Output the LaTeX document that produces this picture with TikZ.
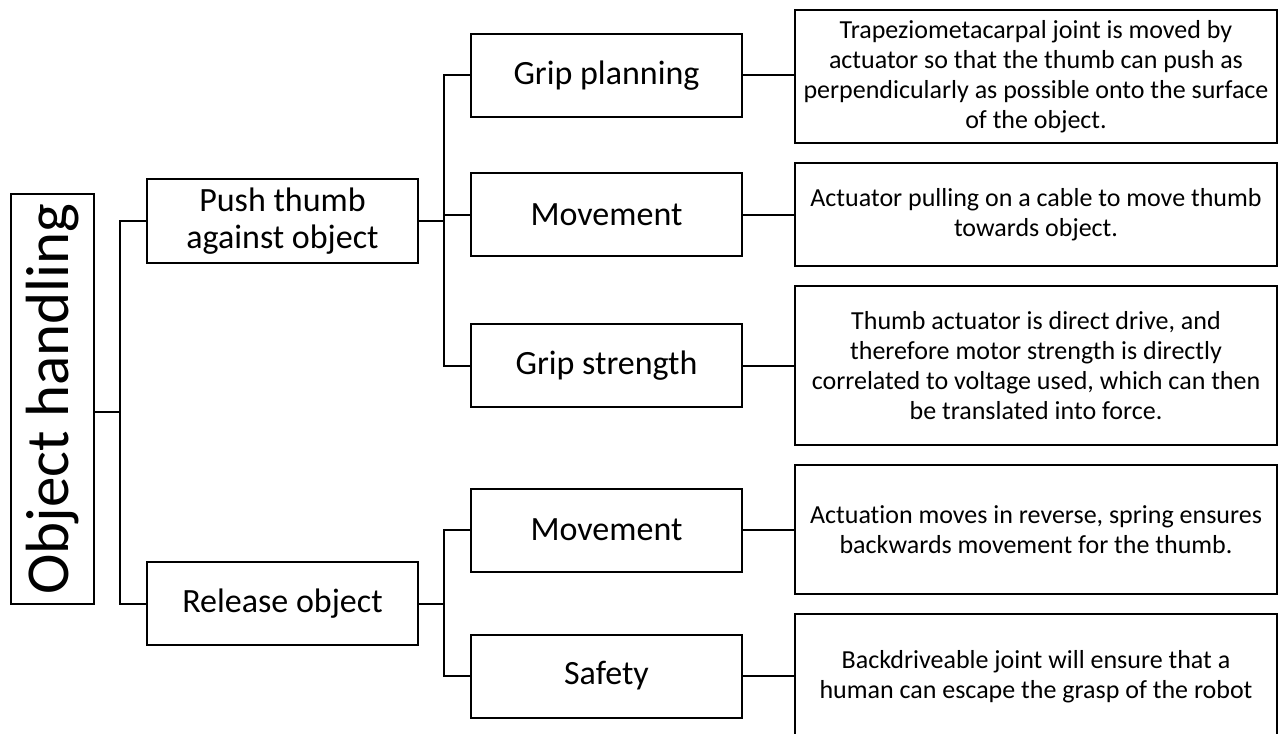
\documentclass[tikz,border=0pt]{standalone}
\usepackage{fontspec}
\setmainfont{Carlito}[Ligatures=NoCommon]
\begin{document}
\begin{tikzpicture}[x=0.5pt,y=-0.5pt,inner sep=0pt,outer sep=0pt,line width=1pt,
funcblock/.style={draw,rectangle,align=center,minimum width=135.5pt,minimum height=41.5pt,line width=1pt,font=\fontsize{17}{18.5}\selectfont},
descblock/.style={draw,rectangle,align=center,minimum width=241pt,line width=1pt,font=\fontsize{13}{15}\selectfont}]
\useasboundingbox (0,0) rectangle (1288,733);
\clip (0,0) rectangle (1288,733);

% root
\draw (52.5,399) node[draw,rectangle,rotate=90,minimum width=205pt,minimum height=41.5pt,font=\fontsize{30.5}{36}\selectfont] (root) {Object handling};

% first level
\draw (282.5,221) node[funcblock,minimum height=42pt] (push) {Push thumb\\against object};
\draw (282.5,603.5) node[funcblock] (rel) {Release object};

% second level
\draw (606.5,75.5) node[funcblock] (gplan) {Grip planning};
\draw (606.5,214.5) node[funcblock] (move) {Movement};
\draw (606.5,365.5) node[funcblock] (gstr) {Grip strength};
\draw (606.5,530) node[funcblock] (moveb) {Movement};
\draw (606.5,676) node[funcblock] (safe) {Safety};

% descriptions
\draw (1036,76.5) node[descblock,minimum height=66.2pt] (dplan) {Trapeziometacarpal joint is moved by\\actuator so that the thumb can push as\\perpendicularly as possible onto the surface\\of the object.};
\draw (1036,214.4) node[descblock,minimum height=51.7pt] (dmove) {Actuator pulling on a cable to move thumb\\towards object.};
\draw (1036,365.5) node[descblock,minimum height=79.5pt] (dstr) {Thumb actuator is direct drive, and\\therefore motor strength is directly\\correlated to voltage used, which can then\\be translated into force.};
\draw (1036,529.7) node[descblock,minimum height=64.6pt] (dmoveb) {Actuation moves in reverse, spring ensures\\backwards movement for the thumb.};
\draw (1036,677) node[descblock,minimum height=63pt] (dsafe) {Backdriveable joint will ensure that a\\human can escape the grasp of the robot};

% connectors
\coordinate (t1) at (120,412);
\coordinate (t2) at (444,221);
\coordinate (t3) at (444,603.5);
\draw (root.south |- t1) -- (t1);
\draw (push.west) -| (t1) |- (rel.west);
\draw (push.east) -- (t2);
\draw (gplan.west) -| (t2) |- (gstr.west);
\draw (move.west) -- (move.west -| t2);
\draw (rel.east) -- (t3);
\draw (moveb.west) -| (t3) |- (safe.west);
\draw (gplan.east) -- (gplan.east -| dplan.west);
\draw (move.east) -- (move.east -| dmove.west);
\draw (gstr.east) -- (gstr.east -| dstr.west);
\draw (moveb.east) -- (moveb.east -| dmoveb.west);
\draw (safe.east) -- (safe.east -| dsafe.west);
\end{tikzpicture}
\end{document}
